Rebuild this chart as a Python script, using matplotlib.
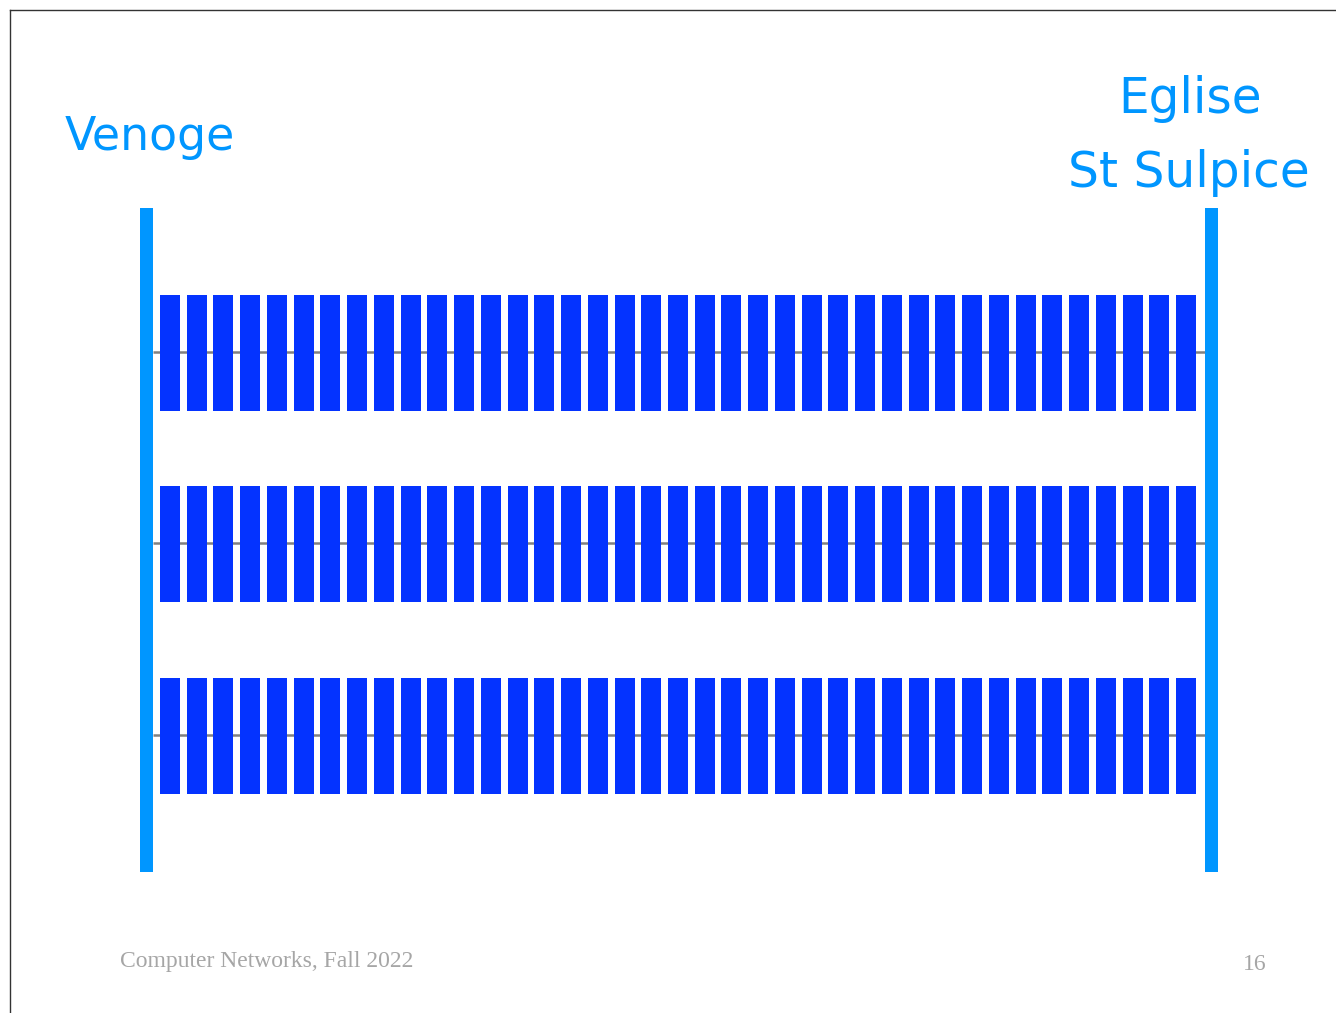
"""Packets travelling on three parallel links between two towns."""
import matplotlib
matplotlib.use('Agg')
import matplotlib.pyplot as plt
import numpy as np
from matplotlib.lines import Line2D

# Data.
left_town = 'Venoge'
right_town = ['Eglise', 'St Sulpice']
links = ['link 1', 'link 2', 'link 3']
packets_per_link = [39, 39, 39]
footer = 'Computer Networks, Fall 2022'
page_number = '16'

W, H = 1336, 1013
fig = plt.figure(figsize=(W / 100, H / 100), dpi=100)
ax = fig.add_axes([0, 0, 1, 1])
ax.set_axis_off()

# pixel layout -> data scale (x: packet slot, y: link index)
x0_px, pitch_px = 170.0, 1016.0 / 38
y0_px, row_px = 352.0, 191.5
ax.set_xlim((0 - x0_px) / pitch_px, (W - x0_px) / pitch_px)
ax.set_ylim((H - y0_px) / row_px, (0 - y0_px) / row_px)

pole_x = [(146.5 - x0_px) / pitch_px, (1211.5 - x0_px) / pitch_px]
pole_w = 13 / pitch_px
pole_top = (208 - y0_px) / row_px
pole_bot = (872 - y0_px) / row_px
pole_color = '#0096FF'
pkt_color = '#0433FF'

# links (gray wires)
for i in range(len(links)):
    ax.hlines(i, pole_x[0] + pole_w / 2, pole_x[1] - pole_w / 2,
              color='#808080', lw=1.8, zorder=1)

# packets
pkt_h = 116 / row_px
for i, n in enumerate(packets_per_link):
    ax.bar(np.arange(n), pkt_h, bottom=i - pkt_h / 2 + 1 / row_px,
           width=20 / pitch_px, color=pkt_color, linewidth=0, zorder=2)

# the two end poles
ax.bar(pole_x, pole_bot - pole_top, bottom=pole_top, width=pole_w,
       color=pole_color, linewidth=0, zorder=3)

# town labels
town_font = dict(color=pole_color, family='DejaVu Sans')
fig.text(65 / W, 1 - 150 / H, left_town, ha='left', va='baseline',
         fontsize=33, **town_font)
fig.text(1190 / W, 1 - 113 / H, right_town[0], ha='center', va='baseline',
         fontsize=35, **town_font)
fig.text(1189 / W, 1 - 187 / H, right_town[1], ha='center', va='baseline',
         fontsize=35, **town_font)

# footer
foot_font = dict(color='#a6a6a6', fontsize=17, family='Liberation Serif')
fig.text(120 / W, 1 - 967 / H, footer, ha='left', va='baseline', **foot_font)
fig.text(1267 / W, 1 - 970 / H, page_number, ha='right', va='baseline', **foot_font)

# slide border
fig.add_artist(Line2D([10 / W, 1], [1 - 10 / H] * 2, color='#333333', lw=1))
fig.add_artist(Line2D([10 / W] * 2, [0, 1 - 10 / H], color='#333333', lw=1))

fig.savefig('out.png', dpi=100, facecolor='white')
